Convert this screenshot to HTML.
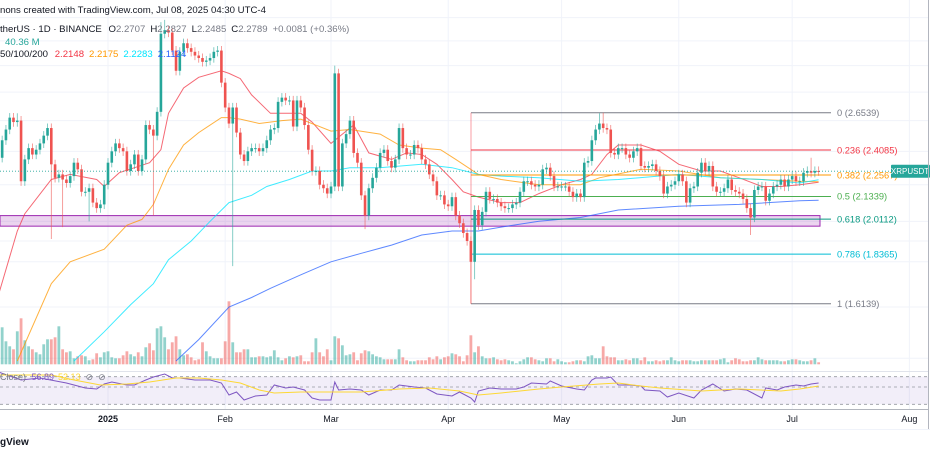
<!DOCTYPE html>
<html><head><meta charset="utf-8">
<style>
html,body{margin:0;padding:0;background:#fff;}
svg{display:block;font-family:"Liberation Sans",sans-serif;}
</style></head>
<body>
<svg id="chart" width="930" height="454" viewBox="0 0 930 454" xmlns="http://www.w3.org/2000/svg">
<defs><clipPath id="mainClip"><rect x="0" y="0" width="928" height="371"/></clipPath>
<clipPath id="rsiClip"><rect x="0" y="372" width="928" height="37"/></clipPath></defs>
<g id="grid"></g>
<g id="main" clip-path="url(#mainClip)"></g>
<g id="rsi" clip-path="url(#rsiClip)"></g>
<g id="overlay"></g>
<line x1="0" y1="371.5" x2="928" y2="371.5" stroke="#e0e3eb"/>
<line x1="0" y1="409.5" x2="928" y2="409.5" stroke="#b2b5be"/>
<line x1="928.5" y1="0" x2="928.5" y2="430" stroke="#b2b5be"/>
<line x1="0" y1="429.5" x2="930" y2="429.5" stroke="#f0f3fa"/>
<text x="0" y="13" font-size="9.6" fill="#131722">nons created with TradingView.com, Jul 08, 2025 04:30 UTC-4</text>
<text x="0" y="32" font-size="9.6" fill="#131722">therUS · 1D · BINANCE  <tspan dx="4">O</tspan><tspan fill="#787b86">2.2707</tspan><tspan dx="5">H</tspan><tspan fill="#787b86">2.2827</tspan><tspan dx="5">L</tspan><tspan fill="#787b86">2.2485</tspan><tspan dx="5">C</tspan><tspan fill="#787b86">2.2789</tspan><tspan dx="5" fill="#787b86">+0.0081 (+0.36%)</tspan></text>
<text x="5" y="45" font-size="9.6" fill="#26a69a">40.36 M</text>
<text x="0" y="57" font-size="9.6" fill="#131722">50/100/200 <tspan dx="4" fill="#f23645">2.2148</tspan><tspan dx="5" fill="#ff9800">2.2175</tspan><tspan dx="5" fill="#00e5ff">2.2283</tspan><tspan dx="5" fill="#2962ff">2.1124</tspan></text>
<text x="0" y="380" font-size="9" fill="#787b86">Close) <tspan dx="3" fill="#7e57c2">56.89</tspan><tspan dx="4" fill="#fdd835">52.13</tspan><tspan dx="5">⊘</tspan><tspan dx="5">⊘</tspan></text>
<text x="0" y="445" font-size="10" font-weight="bold" fill="#131722">gView</text>
</svg>
<script>
const startDay = -29;
const closes = [2.36,2.47,2.54,2.62,2.59,2.60,2.22,2.35,2.42,2.38,2.41,2.45,2.50,2.55,2.32,2.24,2.26,2.23,2.21,2.25,2.33,2.29,2.16,2.16,2.18,2.10,2.07,2.09,2.20,
2.33,2.40,2.45,2.42,2.40,2.28,2.32,2.38,2.28,2.35,2.57,2.54,2.50,2.66,3.26,3.29,3.27,3.12,2.96,3.11,3.18,3.14,3.11,3.08,3.06,3.03,3.04,3.06,3.11,3.12,2.87,2.69,2.58,2.69,2.52,
2.38,2.34,2.40,2.42,2.42,2.40,2.42,2.47,2.54,2.55,2.73,2.76,2.74,2.74,2.56,2.74,2.69,2.57,2.41,2.28,2.28,2.20,2.18,2.15,2.19,2.94,2.19,2.45,2.51,2.60,2.39,2.33,2.14,2.03,2.18,2.24,2.30,2.39,2.41,2.34,2.30,2.35,2.55,2.42,2.38,2.38,2.44,2.42,2.35,2.32,2.26,2.22,2.14,2.14,2.09,2.08,2.13,2.03,1.99,1.94,1.90,
1.80,2.06,1.98,2.05,2.16,2.12,2.12,2.10,2.08,2.07,2.07,2.09,2.10,2.16,2.22,2.22,2.20,2.19,2.20,2.29,2.30,2.25,2.19,2.19,2.19,2.19,2.16,2.13,2.15,2.13,2.33,2.34,2.47,2.54,2.58,2.55,2.54,2.39,2.38,2.42,2.42,2.38,2.36,2.40,2.42,2.31,2.30,2.31,2.32,2.28,2.25,2.15,2.19,2.20,2.22,2.26,2.22,2.10,2.18,2.19,2.27,2.33,2.28,2.31,2.19,2.16,2.16,2.18,2.23,2.17,2.16,2.15,2.12,2.07,2.02,2.17,2.19,2.19,2.11,2.15,2.19,2.20,2.23,2.19,2.23,2.25,2.22,2.22,2.27,2.28,2.27,2.28,2.2789];
const firstOpen = 2.30;
const highOverrides = {14:3.36,15:3.38,60:3.00,130:2.65,131:2.6539,186:2.36,"-24":2.65};
const lowOverrides = {33:1.78,96:1.6139,97:1.72,68:1.96,170:1.93,"-15":1.91,"-12":1.97,12:2.03,"-5":2.00};
const volumes = [380,370,230,180,150,330,460,240,180,150,120,100,200,250,250,270,380,150,120,130,60,80,90,80,40,50,110,70,120,130,70,60,60,90,130,100,80,120,80,170,210,140,360,380,270,150,220,280,150,90,100,70,40,50,220,130,80,60,60,60,230,630,220,120,120,150,
150,70,70,80,80,70,80,140,70,40,60,80,70,80,90,30,30,120,260,120,80,150,40,280,260,190,90,100,120,40,110,140,130,100,80,70,50,50,50,50,150,70,40,30,30,40,40,40,70,50,80,50,70,80,110,100,80,30,
90,290,120,180,80,60,60,70,50,40,50,40,30,10,30,50,70,70,50,40,30,60,60,30,50,30,20,20,30,40,40,30,80,90,60,60,180,80,70,70,40,40,50,40,60,60,40,70,30,30,40,30,40,40,70,40,30,40,40,40,30,30,40,40,40,40,40,50,60,20,40,60,50,30,30,40,40,70,50,40,40,40,40,30,30,40,50,50,40,30,30,40,60,20];
const emaDays = {
 e20:[-29,-24,-22,-15,-10,-3,-1,3,7,11,14,16,20,24,30,32,35,38,43,46,51,54,59,62,65,69,75,79,83,87,91,94,98,104,109,114,120,125,128,132,135,141,146,151,157,162,167,173,178,183,188],
 e50:[-24,-15,-10,-1,5,9,12,16,20,24,30,32,35,40,46,51,59,64,72,77,83,88,92,98,104,114,125,130,141,151,162,173,183,188],
 e100:[-9,-1,6,12,16,22,27,32,38,42,48,54,59,64,72,83,91,98,104,114,125,135,151,162,173,183,188],
 e200:[18,24,32,38,43,51,59,67,75,83,91,98,104,114,125,135,151,167,183,188]};
const emaVals = {
 e20:[1.65,1.95,2.04,2.23,2.26,2.23,2.19,2.27,2.30,2.33,2.41,2.65,2.83,2.91,2.96,2.94,2.90,2.78,2.65,2.65,2.65,2.59,2.45,2.51,2.57,2.39,2.35,2.39,2.38,2.32,2.23,2.16,2.13,2.10,2.10,2.15,2.20,2.23,2.26,2.38,2.44,2.44,2.40,2.32,2.28,2.28,2.24,2.19,2.19,2.20,2.2148],
 e50:[1.39,1.70,1.80,1.86,1.98,2.01,2.09,2.29,2.44,2.52,2.62,2.62,2.61,2.58,2.60,2.61,2.53,2.54,2.51,2.44,2.42,2.41,2.35,2.26,2.23,2.20,2.20,2.24,2.29,2.28,2.24,2.23,2.22,2.2175],
 e100:[1.39,1.50,1.61,1.70,1.81,1.90,2.00,2.10,2.14,2.19,2.23,2.28,2.28,2.30,2.30,2.32,2.30,2.26,2.25,2.24,2.22,2.23,2.26,2.24,2.23,2.21,2.2283],
 e200:[1.39,1.47,1.60,1.64,1.68,1.74,1.80,1.84,1.88,1.93,1.95,1.95,1.97,2.00,2.02,2.06,2.08,2.09,2.11,2.1124]};
const rsiDays = [-29,-23,-18,-11,-9,-6,-3,-1,1,5,7,10,12,15,17,19,23,27,30,32,34,36,39,42,44,47,49,52,54,56,59,60,61,64,67,69,72,75,77,81,84,87,91,93,96,97,98,101,104,108,110,112,116,117,120,124,126,128,129,132,133,135,138,141,142,146,148,151,155,157,160,163,166,169,173,174,177,179,182,184,186,188];
const rsiVals = [76.8,65.2,68.1,60.9,58,53.6,52.2,59.4,62.3,58,58,65.2,69.6,73.9,68.1,68.1,65.2,65.2,60.9,43.5,47.8,36.2,42,43.5,58,53.6,55.1,50.7,39.1,36.2,36.2,62.3,50.7,52.2,50.7,43.5,50.7,50.7,58,55.1,53.6,44.9,42,47.8,39.1,33.3,49.3,53.6,52.2,52.2,55.1,60.9,59.4,63.8,56.5,52.2,50.7,65.2,68.1,68.1,69.6,58,58,56.5,50.7,49.3,40.6,46.4,39.1,50.7,59.4,49.3,52.2,50.7,39.1,53.6,50.7,55.1,58,56.5,59.4,60.9];
const rsiMaDays = [-29,-15,-9,-2,5,11,18,24,30,35,40,44,51,59,67,77,85,93,98,104,109,114,120,130,135,141,146,157,167,178,183,188];
const rsiMaVals = [72.5,72.5,65.2,58,59.4,62.3,68.1,68.1,65.2,60.9,50.7,46.4,47.8,47.8,47.8,52.2,53.6,49.3,43.5,46.4,49.3,52.2,55.1,59.4,60.9,56.5,53.6,49.3,52.2,49.3,52.2,56.5];
const fibLevels = [0,0.236,0.382,0.5,0.618,0.786,1];
const fibPrices = [2.6539,2.4085,2.2567,2.1339,2.0112,1.8365,1.6139];
const monthLabels = ["2025","Feb","Mar","Apr","May","Jun","Jul","Aug"];
const monthDays = [0,31,59,90,120,151,181,212];
const gridPrices = [1.4,1.6,1.8,1.9,2.0,2.2,2.4,2.6,2.8,3.0,3.2,3.4];
const zoneTop = 2.03, zoneBottom = 1.975;

const NS="http://www.w3.org/2000/svg";
const X = d => 108 + d*3.78;
const Y = p => 112.7 + 384*(Math.log(2.6539) - Math.log(p));
const VY = v => 364.3 - v/10;
const RY = v => 404.3 - (v-30)/40*27.6;
function mk(parent, tag, attrs){const e=document.createElementNS(NS,tag);for(const k in attrs)e.setAttribute(k,attrs[k]);parent.appendChild(e);return e;}
const grid=document.getElementById('grid'), main=document.getElementById('main'), rsi=document.getElementById('rsi'), ov=document.getElementById('overlay');

gridPrices.forEach(p=>{const l=mk(grid,'line',{x1:0,x2:928,y1:Y(p),y2:Y(p),stroke:'#f0f3fa'});

});
monthDays.forEach((d,i)=>{const l=mk(grid,'line',{x1:X(d),x2:X(d),y1:0,y2:409,stroke:'#f0f3fa'});


const t=mk(ov,'text',{x:X(d),y:422,'font-size':9,'text-anchor':'middle',fill:'#131722','font-weight':i===0?'bold':'normal'});
t.textContent=monthLabels[i];

});

// RSI background & bands
const rbg=mk(rsi,'rect',{x:0,y:RY(70),width:928,height:RY(30)-RY(70),fill:'rgba(126,87,194,0.1)'});


[[70,RY(70)],[50,387],[30,RY(30)]].forEach(b=>{const l=mk(rsi,'line',{x1:0,x2:928,y1:b[1],y2:b[1],stroke:'#9598a1','stroke-dasharray':'3,3','stroke-width':0.8});

});

// purple zone
const zone=mk(main,'rect',{x:0,y:Y(zoneTop),width:820,height:Y(zoneBottom)-Y(zoneTop),fill:'rgba(156,39,176,0.2)',stroke:'#9c27b0','stroke-width':1});



// volume
closes.forEach((c,i)=>{const o=i?closes[i-1]:firstOpen;const up=c>=o;const d=startDay+i;
const r=mk(main,'rect',{x:X(d)-1.4,y:VY(volumes[i]),width:2.8,height:364.3-VY(volumes[i]),fill:up?'rgba(38,166,154,0.5)':'rgba(239,83,80,0.5)'});

});

// EMAs
const emaColors={e20:'#f23645',e50:'#ff9800',e100:'#00e5ff',e200:'#2962ff'};
for(const k in emaDays){const pts=emaDays[k].map((d,i)=>X(d).toFixed(1)+','+Y(emaVals[k][i]).toFixed(1)).join(' ');
const pl=mk(main,'polyline',{points:pts,fill:'none',stroke:emaColors[k],'stroke-width':1,opacity:0.75});

}

// fib
fibLevels.forEach((lv,i)=>{const cols=['#787b86','#f23645','#ff9800','#4caf50','#089981','#00bcd4','#787b86'];const y=Y(fibPrices[i]);
const l=mk(main,'line',{x1:471,x2:831,y1:y,y2:y,stroke:cols[i],'stroke-width':1});


const t=mk(ov,'text',{x:837,y:y+3.3,'font-size':9.3,fill:cols[i]});
t.textContent=lv+' ('+fibPrices[i].toFixed(4)+')';

});
const fv=mk(main,'line',{x1:471,x2:471,y1:Y(fibPrices[0]),y2:Y(fibPrices[6]),stroke:'#f23645','stroke-width':0.8,opacity:0.6});



// candles
closes.forEach((c,i)=>{const o=i?closes[i-1]:firstOpen;const d=startDay+i;const up=c>=o;const col=up?'#26a69a':'#ef5350';
const hi=highOverrides[d]!==undefined?highOverrides[d]:Math.max(o,c)*1.012;
const lo=lowOverrides[d]!==undefined?lowOverrides[d]:Math.min(o,c)*0.988;
const w=mk(main,'line',{x1:X(d),x2:X(d),y1:Y(hi),y2:Y(lo),stroke:col,'stroke-width':0.8,opacity:0.7});


const yt=Y(Math.max(o,c)), yb=Y(Math.min(o,c));
const b=mk(main,'rect',{x:X(d)-1.3,y:yt,width:2.6,height:Math.max(1,yb-yt),fill:col});

});

// last price line and label
const last=closes[closes.length-1];
const pl=mk(main,'line',{x1:0,x2:890,y1:Y(last),y2:Y(last),stroke:'#26a69a','stroke-dasharray':'1,2','stroke-width':0.8});


const lb=mk(ov,'rect',{x:891,y:Y(last)-6.5,width:39,height:13,fill:'#26a69a',rx:1});


const lt=mk(ov,'text',{x:910,y:Y(last)+3,'font-size':8,fill:'#fff','text-anchor':'middle'});
lt.textContent='XRPUSDT';



// RSI lines
const rp=mk(rsi,'polyline',{points:rsiDays.map((d,i)=>X(d).toFixed(1)+','+RY(rsiVals[i]).toFixed(1)).join(' '),fill:'none',stroke:'#7e57c2','stroke-width':1});


const rm=mk(rsi,'polyline',{points:rsiMaDays.map((d,i)=>X(d).toFixed(1)+','+RY(rsiMaVals[i]).toFixed(1)).join(' '),fill:'none',stroke:'#fdd835','stroke-width':1});


</script>
</body></html>
